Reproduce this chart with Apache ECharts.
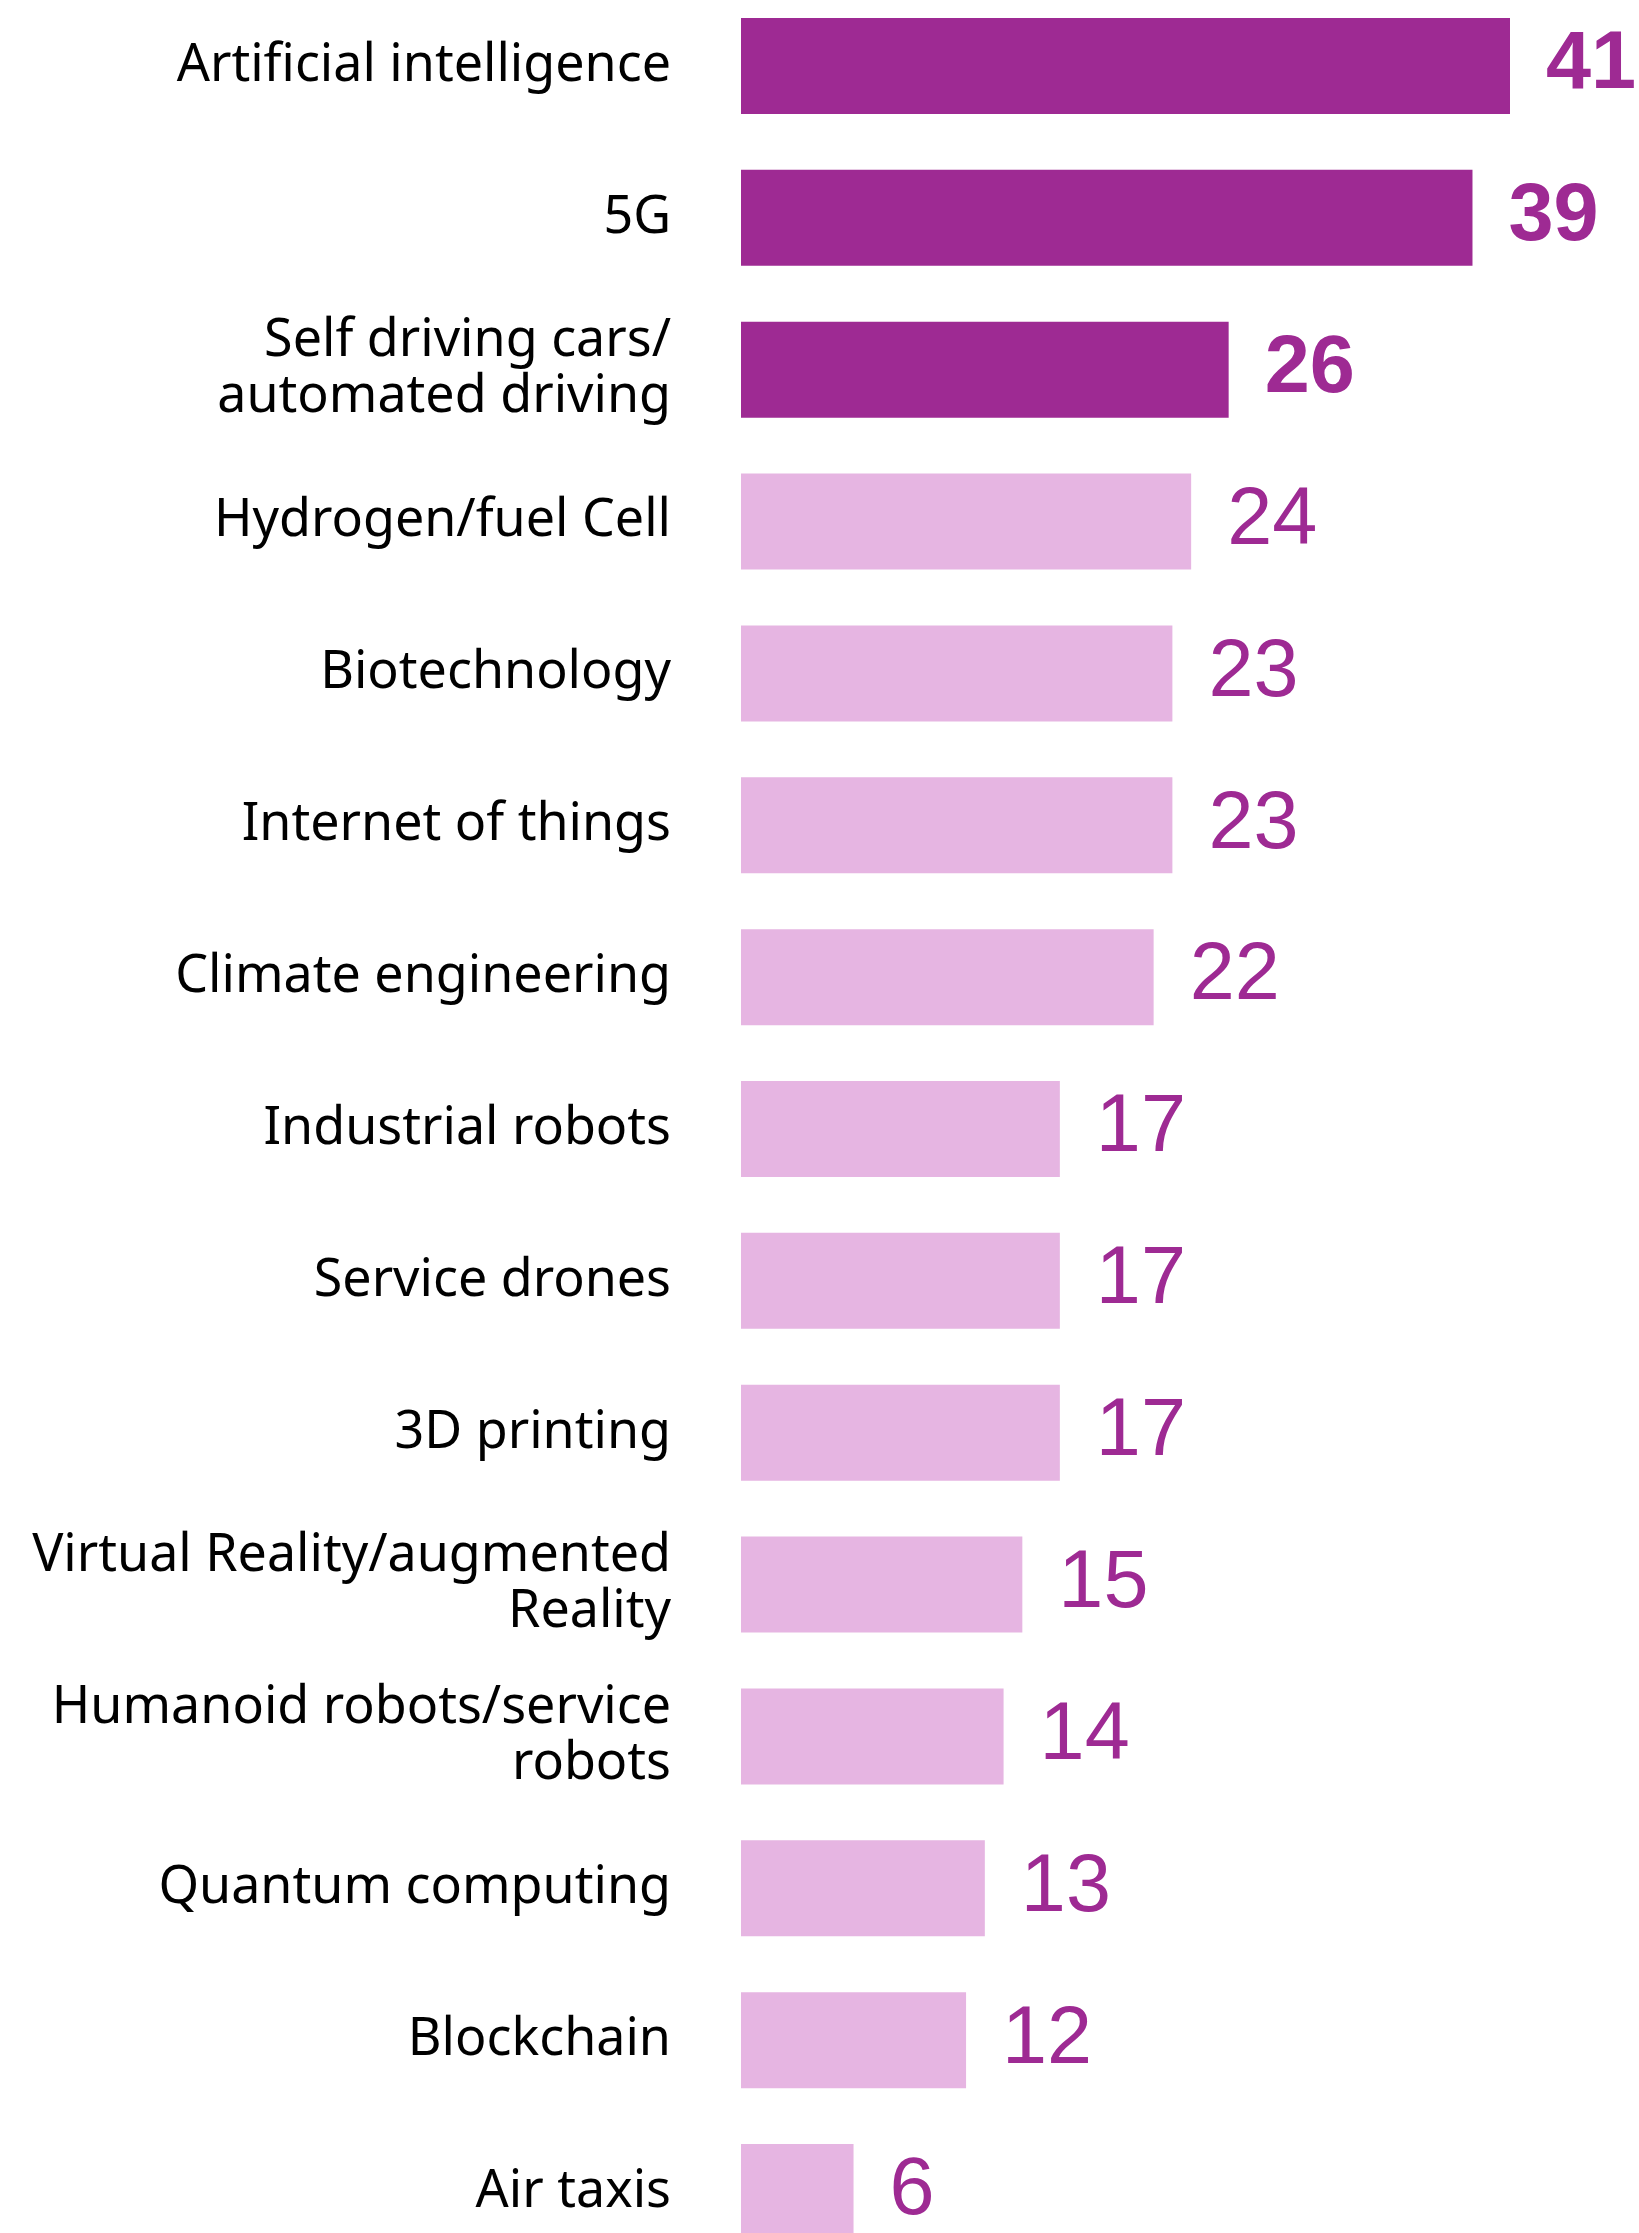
<!DOCTYPE html>
<html>
<head>
<meta charset="utf-8">
<title>Technologies</title>
<script src="https://cdn.jsdelivr.net/npm/echarts@6/dist/echarts.min.js"></script>
<style>
  html, body { margin: 0; padding: 0; background: #ffffff; }
  #chart { width: 1639px; height: 2233px; }
</style>
</head>
<body>
<div id="chart"></div>
<script>
// Technologies, in display order (top to bottom)
const categories = [
  'Artificial intelligence',
  '5G',
  'Self driving cars/\nautomated driving',
  'Hydrogen/fuel Cell',
  'Biotechnology',
  'Internet of things',
  'Climate engineering',
  'Industrial robots',
  'Service drones',
  '3D printing',
  'Virtual Reality/augmented\nReality',
  'Humanoid robots/service\nrobots',
  'Quantum computing',
  'Blockchain',
  'Air taxis'
];

// Share of mentions per technology
const values = [41, 39, 26, 24, 23, 23, 22, 17, 17, 17, 15, 14, 13, 12, 6];

// Leading technologies drawn in the strong colour with bold labels
const highlighted = [true, true, true, false, false, false, false, false, false, false, false, false, false, false, false];

const STRONG = '#9E2A93';
const SOFT = '#E6B5E2';

const chart = echarts.init(document.getElementById('chart'), null, { renderer: 'canvas' });

const seriesData = values.map((v, i) => ({
  value: v,
  itemStyle: { color: highlighted[i] ? STRONG : SOFT },
  label: { fontWeight: highlighted[i] ? 'bold' : 'normal' }
}));

chart.setOption({
  animation: false,
  backgroundColor: '#ffffff',
  grid: {
    left: 741,
    top: -10,
    width: 769,
    height: 2278,
    containLabel: false,
    outerBoundsMode: 'none'
  },
  xAxis: {
    type: 'value',
    min: 0,
    max: 41,
    show: false
  },
  yAxis: {
    type: 'category',
    inverse: true,
    data: categories,
    axisLine: { show: false },
    axisTick: { show: false },
    splitLine: { show: false },
    axisLabel: {
      margin: 70,
      color: '#000000',
      fontFamily: 'Noto Sans',
      fontSize: 52,
      lineHeight: 56,
      align: 'right',
      padding: [0, 0, 10, 0]
    }
  },
  series: [{
    type: 'bar',
    data: seriesData,
    barWidth: 96,
    label: {
      show: true,
      position: 'right',
      distance: 36,
      color: STRONG,
      fontFamily: 'Liberation Sans',
      fontSize: 81
    }
  }]
});
</script>
</body>
</html>
